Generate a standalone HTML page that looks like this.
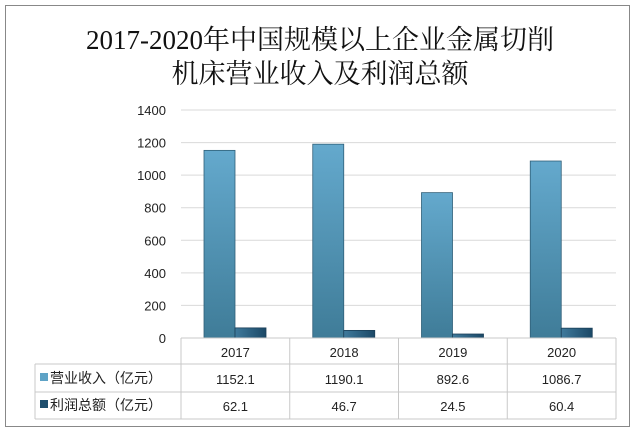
<!DOCTYPE html>
<html><head><meta charset="utf-8"><style>
body{margin:0;background:#fff;width:640px;height:430px;overflow:hidden;font-family:"Liberation Sans","Noto Sans CJK SC",sans-serif}
</style></head><body>
<svg width="640" height="430" viewBox="0 0 640 430">
<defs>
<linearGradient id="g1" x1="0" y1="0" x2="0" y2="1"><stop offset="0" stop-color="#64a9cd"/><stop offset="1" stop-color="#3f7c98"/></linearGradient>
<linearGradient id="g2" x1="0" y1="0" x2="1" y2="0"><stop offset="0" stop-color="#3f7a9c"/><stop offset="1" stop-color="#1b4866"/></linearGradient>
</defs>
<rect x="5.5" y="5.5" width="624" height="421" fill="#fff" stroke="#888"/>
<text x="320" y="49" text-anchor="middle" font-family="'Liberation Serif','Noto Serif CJK SC',serif" font-size="27" fill="#111">2017-2020年中国规模以上企业金属切削</text>
<text x="320" y="83" text-anchor="middle" font-family="'Liberation Serif','Noto Serif CJK SC',serif" font-size="27" fill="#111">机床营业收入及利润总额</text>
<g id="grid"></g><g id="bars"></g><g id="table"></g>
</svg>
<script>
const categories=["2017","2018","2019","2020"];
const revenue=[1152.1,1190.1,892.6,1086.7];
const profit=[62.1,46.7,24.5,60.4];
const yTicks=[0,200,400,600,800,1000,1200,1400];
const seriesNames=["营业收入（亿元）","利润总额（亿元）"];
const NS="http://www.w3.org/2000/svg";
const L=181,R=616,Y0=338,Y1=110,YMAX=1400;
const y=v=>Y0-(v/YMAX)*(Y0-Y1);
const bw=(R-L)/categories.length;
function mk(t,a,p,txt){const e=document.createElementNS(NS,t);for(const k in a)e.setAttribute(k,a[k]);if(txt!==undefined)e.textContent=txt;p.appendChild(e);return e;}
const grid=document.getElementById('grid'),bars=document.getElementById('bars'),tab=document.getElementById('table');
yTicks.forEach(v=>{
 if(v>0){const l=mk('line',{x1:L,x2:R,y1:y(v),y2:y(v),stroke:'#d9d9d9'},grid);
 
 }
 const t=mk('text',{x:166,y:y(v)+5,'text-anchor':'end','font-size':13,fill:'#222'},grid,String(v));
 
 
});
categories.forEach((c,i)=>{
 const x0=L+i*bw+23;
 const b1=mk('rect',{x:x0,y:y(revenue[i]),width:31,height:Y0-y(revenue[i]),fill:'url(#g1)',stroke:'#2f5f78','stroke-width':0.8},bars);
 
 
 const b2=mk('rect',{x:x0+31,y:y(profit[i]),width:31,height:Y0-y(profit[i]),fill:'url(#g2)',stroke:'#1b3f58','stroke-width':0.8},bars);
 
 
});
// table
const rows=[338,364,392,419];
const TL=35;
const lines=[[L,338,R,338],[TL,364,R,364],[TL,392,R,392],[TL,419,R,419],[TL,364,TL,419],[R,338,R,419]];
for(let i=0;i<=categories.length;i++)lines.push([L+i*bw,338,L+i*bw,419]);
lines.forEach(p=>{const l=mk('line',{x1:p[0],y1:p[1],x2:p[2],y2:p[3],stroke:'#c8c8c8'},tab);
 
 });
categories.forEach((c,i)=>{
 const cx=L+i*bw+bw/2;
 const t=mk('text',{x:cx,y:357,'text-anchor':'middle','font-size':13,fill:'#222'},tab,c);
 
 
 const a=mk('text',{x:cx,y:384,'text-anchor':'middle','font-size':13,fill:'#222'},tab,revenue[i].toFixed(1));
 
 
 const b=mk('text',{x:cx,y:411,'text-anchor':'middle','font-size':13,fill:'#222'},tab,profit[i].toFixed(1));
 
 
});
[['#5ea3c6',378,'legend-revenue'],['#1f4f6e',405,'legend-profit']].forEach((s,k)=>{
 const r=mk('rect',{x:40,y:s[1]-5,width:8,height:8,fill:s[0]},tab);
 
 
 const t=mk('text',{x:50,y:s[1]+5,'font-size':14,fill:'#222'},tab,seriesNames[k]);
 
 
});
</script>
</body></html>
